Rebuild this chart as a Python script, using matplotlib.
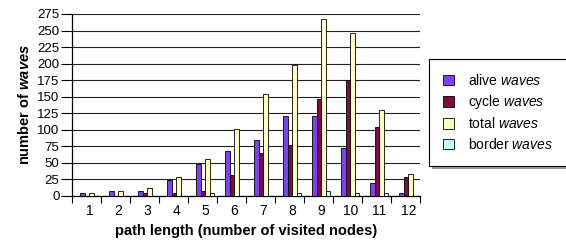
"""Waves per path length - grouped bars."""

import numpy as np
import matplotlib
matplotlib.use("Agg")
import matplotlib.pyplot as plt

plt.rcParams["font.family"] = ["Liberation Sans", "DejaVu Sans"]
plt.rcParams["mathtext.fontset"] = "custom"
plt.rcParams["mathtext.rm"] = "Liberation Sans"
plt.rcParams["mathtext.it"] = "Liberation Sans:italic"
plt.rcParams["mathtext.bf"] = "Liberation Sans:bold"
plt.rcParams["mathtext.bfit"] = "Liberation Sans:bold:italic"

PATH_LEN = ["1", "2", "3", "4", "5", "6", "7", "8", "9", "10", "11", "12"]
ALIVE = [4, 8, 8, 24, 49, 68, 85, 121, 121, 72, 20, 4]
CYCLE = [0, 0, 4, 4, 8, 32, 65, 77, 146, 175, 105, 28]
TOTAL = [4, 8, 12, 29, 56, 101, 154, 198, 267, 247, 130, 33]
BORDER = [0, 0, 0, 0, 4, 0, 0, 4, 8, 4, 4, 0]
Y_TICKS = [0, 25, 50, 75, 100, 125, 150, 175, 200, 225, 250, 275]

SERIES = [
    (ALIVE, "alive $\\mathit{waves}$", "#7F3FFF"),
    (CYCLE, "cycle $\\mathit{waves}$", "#7F0F3A"),
    (TOTAL, "total $\\mathit{waves}$", "#FFFFC4"),
    (BORDER, "border $\\mathit{waves}$", "#C4FFFF"),
]

fig = plt.figure(figsize=(5.66, 2.41), dpi=100)
ax = fig.add_axes([72 / 566, 1 - 196 / 241, 348 / 566, 182 / 241])

x = np.arange(len(PATH_LEN))
w = 0.155
shift = 0.1
for k, (vals, label, color) in enumerate(SERIES):
    ax.bar(x + shift + (k - 1.5) * w, vals, w, color=color, edgecolor="black",
           linewidth=0.6, label=label, zorder=3)

ax.set_xlim(-0.5, len(PATH_LEN) - 0.5)
ax.set_ylim(0, 275)
ax.set_yticks(Y_TICKS)
ax.set_yticklabels([str(t) for t in Y_TICKS], fontsize=9.5)
ax.yaxis.grid(True, color="#222222", linewidth=0.8, zorder=0)

ax.set_xticks(x + shift)
ax.set_xticklabels(PATH_LEN, fontsize=10)
ax.tick_params(axis="x", which="major", length=0, pad=6)
ax.set_xticks(np.arange(len(PATH_LEN) + 1) - 0.5, minor=True)
ax.tick_params(axis="x", which="minor", length=5, width=0.8, direction="out")
ax.tick_params(axis="y", length=8, width=0.8, direction="out", pad=1)

for side in ["top", "right"]:
    ax.spines[side].set_visible(False)
ax.spines["left"].set_linewidth(0.9)
ax.spines["bottom"].set_linewidth(0.9)

ax.set_xlabel("path length (number of visited nodes)", fontsize=10.5,
              fontweight="bold", labelpad=4)
ax.set_ylabel("number of $\\mathbfit{waves}$", fontsize=10.5, fontweight="bold",
              labelpad=4)

leg = fig.legend(loc="upper left", bbox_to_anchor=(429 / 566, 1 - 59 / 241),
                 fontsize=10, frameon=True, fancybox=False, shadow=True,
                 handlelength=0.8, handleheight=0.8, handletextpad=1.0,
                 labelspacing=0.38, borderpad=1.0, borderaxespad=0)
leg.get_frame().set_edgecolor("black")
leg.get_frame().set_linewidth(0.8)

plt.savefig("out.png", dpi=100)
